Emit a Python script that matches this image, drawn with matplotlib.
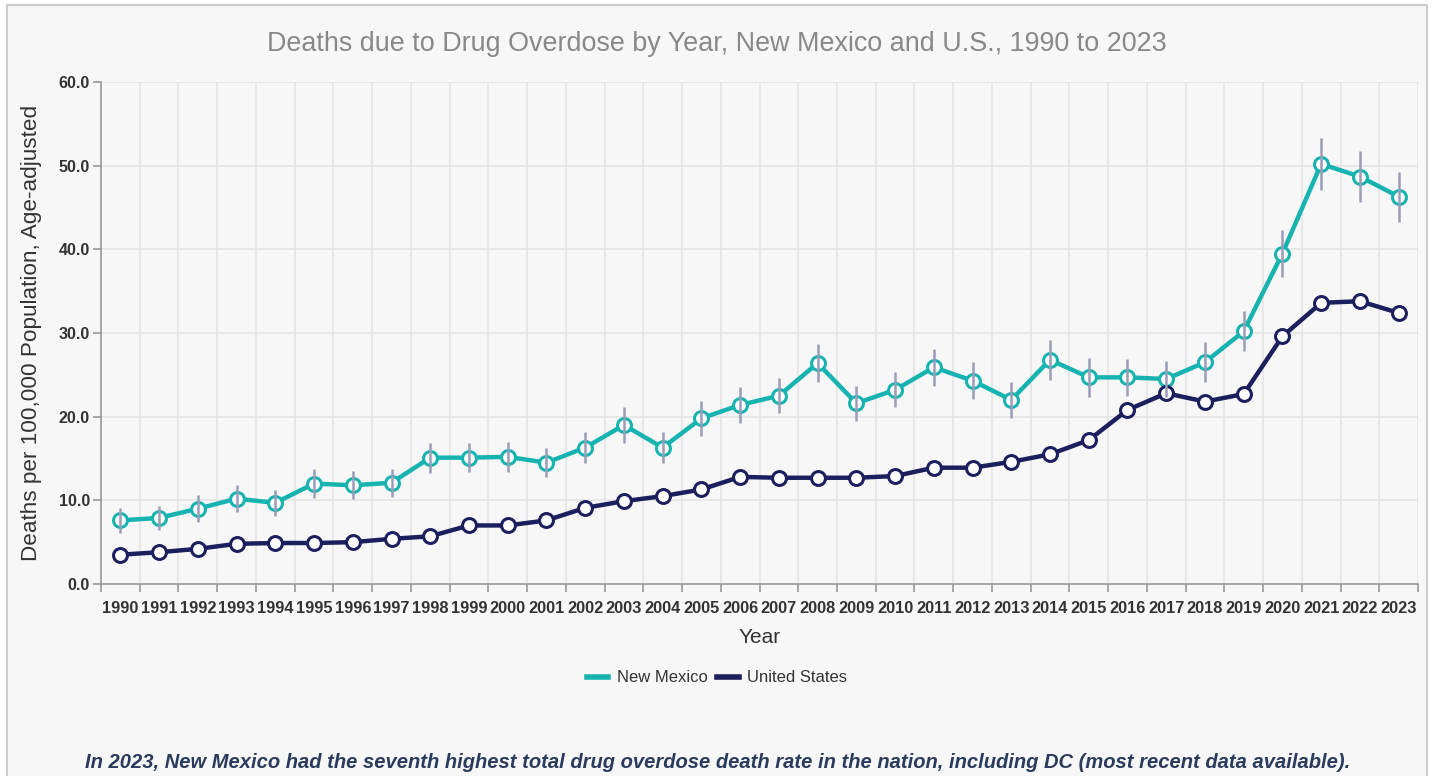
import matplotlib.pyplot as plt
from matplotlib.patches import Rectangle

# ---------------------------
# DATA
# ---------------------------
years = list(range(1990, 2024))

new_mexico = [7.6, 7.9, 9.0, 10.2, 9.7, 12.0, 11.8, 12.1, 15.1, 15.1,
              15.2, 14.5, 16.3, 19.0, 16.3, 19.8, 21.4, 22.5, 26.4, 21.6,
              23.2, 25.9, 24.3, 22.0, 26.8, 24.7, 24.7, 24.5, 26.5, 30.2,
              39.5, 50.2, 48.7, 46.3]

nm_error = [1.5, 1.45, 1.6, 1.65, 1.55, 1.7, 1.7, 1.65, 1.8, 1.75,
            1.8, 1.75, 1.85, 2.1, 1.85, 2.1, 2.1, 2.1, 2.25, 2.1,
            2.1, 2.2, 2.2, 2.1, 2.4, 2.3, 2.2, 2.1, 2.4, 2.4,
            2.8, 3.1, 3.1, 3.0]

united_states = [3.5, 3.8, 4.2, 4.8, 4.9, 4.9, 5.0, 5.4, 5.7, 7.0,
                 7.0, 7.6, 9.1, 9.9, 10.5, 11.3, 12.8, 12.7, 12.7, 12.7,
                 12.9, 13.9, 13.9, 14.6, 15.5, 17.2, 20.8, 22.8, 21.8, 22.7,
                 29.6, 33.6, 33.8, 32.4]

# ---------------------------
# STYLE
# ---------------------------
plt.rcParams['font.family'] = ['Liberation Sans', 'DejaVu Sans']

teal = '#17b3b0'
navy = '#1c1f5e'
err_color = '#9a9cb8'
bg = '#f7f7f7'

fig = plt.figure(figsize=(14.34, 7.76), dpi=100)
fig.patch.set_facecolor('white')
frame = Rectangle((7 / 1434, -0.01), 1420 / 1434, 1 - 5 / 776 + 0.01,
                  transform=fig.transFigure, facecolor=bg,
                  edgecolor='#cccccc', linewidth=1.5, zorder=-10)
fig.patches.append(frame)

ax = fig.add_axes([101 / 1434, 1 - 584 / 776, 1317 / 1434, (584 - 82) / 776])
ax.set_facecolor(bg)

x = list(range(len(years)))

# ---------------------------
# LINES
# ---------------------------
ax.plot(x, new_mexico, color=teal, linewidth=3.2, marker='o', markersize=10,
        markerfacecolor='white', markeredgecolor=teal, markeredgewidth=2.2,
        zorder=3, label='New Mexico')
ax.errorbar(x, new_mexico, yerr=nm_error, fmt='none', ecolor=err_color,
            elinewidth=1.8, capsize=0, zorder=4)
ax.plot(x, united_states, color=navy, linewidth=3.2, marker='o', markersize=10,
        markerfacecolor='white', markeredgecolor=navy, markeredgewidth=2.2,
        zorder=3, label='United States')

# ---------------------------
# AXES
# ---------------------------
ax.set_xlim(-0.5, len(years) - 0.5)
ax.set_ylim(0, 60)
ax.set_yticks([0, 10, 20, 30, 40, 50, 60])
ax.set_yticklabels([f"{v:.1f}" for v in [0, 10, 20, 30, 40, 50, 60]],
                   fontsize=11.5, fontweight='bold', color='#333333')

ax.set_xticks(x)
ax.set_xticklabels([str(y) for y in years], fontsize=11.8, fontweight='bold',
                   color='#333333')
ax.set_xticks([i - 0.5 for i in range(len(years) + 1)], minor=True)
ax.tick_params(axis='x', which='major', length=0, pad=12)
ax.tick_params(axis='x', which='minor', length=6, color='#999999', width=1.2)
ax.tick_params(axis='y', length=6, color='#999999', width=1.2, pad=2)

ax.grid(True, which='major', axis='y', color='#e4e4e4', linewidth=1.2)
ax.grid(True, which='minor', axis='x', color='#e4e4e4', linewidth=1.2)
ax.set_axisbelow(True)

for side in ['top', 'right']:
    ax.spines[side].set_visible(False)
for side in ['left', 'bottom']:
    ax.spines[side].set_color('#999999')
    ax.spines[side].set_linewidth(1.2)

ax.set_ylabel("Deaths per 100,000 Population, Age-adjusted", fontsize=16.2,
              color='#333333', labelpad=12)
ax.set_xlabel("Year", fontsize=15, color='#333333', labelpad=9)

# ---------------------------
# TITLE, LEGEND, NOTE
# ---------------------------
fig.text(0.5, 1 - 44 / 776, "Deaths due to Drug Overdose by Year, New Mexico and U.S., 1990 to 2023",
         ha='center', va='center', fontsize=19.4, color='#888888')

leg = ax.legend(loc='center', bbox_to_anchor=(717 / 1434, 1 - 678 / 776),
                bbox_transform=fig.transFigure, ncol=2, frameon=False,
                fontsize=12, handlelength=1.3, handletextpad=0.5,
                columnspacing=0.6)
for h in leg.legend_handles:
    h.set_marker('')
    h.set_linewidth(4)
for t in leg.get_texts():
    t.set_color('#333333')

fig.text(718 / 1434, 1 - 763 / 776,
         "In 2023, New Mexico had the seventh highest total drug overdose death rate in the nation, including DC (most recent data available).",
         ha='center', va='center', fontsize=14.5, fontweight='bold', fontstyle='italic',
         color='#2a3b5e')

fig.savefig('out.png', dpi=100, facecolor=fig.get_facecolor())
